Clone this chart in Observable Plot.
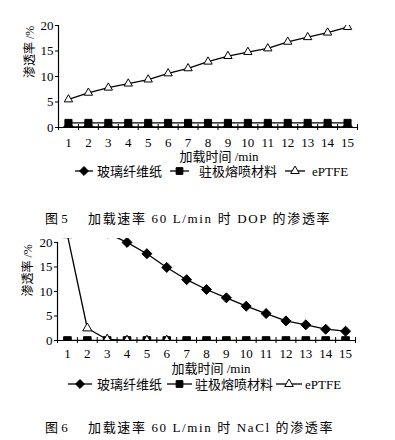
<!DOCTYPE html>
<html><head><meta charset="utf-8">
<script src="https://cdn.jsdelivr.net/npm/d3@7"></script>
<script src="https://cdn.jsdelivr.net/npm/@observablehq/plot@0.6"></script>
<style>
body{margin:0;background:#fff;}
#root{position:relative;width:395px;height:440px;overflow:hidden;font-family:"Liberation Serif","Times New Roman","DejaVu Serif","Noto Sans CJK SC",serif;color:#000;}
.abs{position:absolute;white-space:pre;line-height:1;}
.plot{position:absolute;left:0;}
</style></head><body><div id="root"></div>
<script>
// ---- data ----
const minutes = [1, 2, 3, 4, 5, 6, 7, 8, 9, 10, 11, 12, 13, 14, 15];
const yTicks = [0, 5, 10, 15, 20];
const seriesNames = ["玻璃纤维纸", "驻极熔喷材料", "ePTFE"];
const xTitle = "加载时间 /min";
const yTitle = "渗透率 /%";

// Figure 5: DOP
const dopGlass    = [0.1, 0.1, 0.1, 0.1, 0.1, 0.1, 0.1, 0.1, 0.1, 0.1, 0.1, 0.1, 0.1, 0.1, 0.1];
const dopElectret = [0.9, 0.9, 0.9, 0.9, 0.9, 0.9, 0.9, 0.9, 0.9, 0.9, 0.9, 0.9, 0.9, 0.9, 0.9];
const dopEPTFE    = [5.5, 6.8, 7.8, 8.6, 9.4, 10.6, 11.6, 12.9, 14.0, 14.8, 15.5, 16.8, 17.7, 18.6, 19.7];
const caption5a = "图 5";
const caption5b = "加载速率 60 L/min 时 DOP 的渗透率";

// Figure 6: NaCl
const naclGlass    = [26.0, 24.0, 21.9, 20.0, 17.7, 14.9, 12.4, 10.4, 8.7, 7.0, 5.5, 4.0, 3.2, 2.3, 1.9];
const naclElectret = [0, 0, 0, 0, 0, 0, 0, 0, 0, 0, 0, 0, 0, 0, 0];
const naclEPTFE    = [21.5, 2.5, 0.2, 0, 0, 0, null, null, null, null, null, null, null, null, null];
const caption6a = "图 6";
const caption6b = "加载速率 60 L/min 时 NaCl 的渗透率";

const root = document.getElementById("root");
const FONT = "'Liberation Serif','Times New Roman','DejaVu Serif','Noto Sans CJK SC',serif";

function rows(vals) { return minutes.map((m, i) => ({minute: m, value: vals[i]})); }
const halfTicks = minutes.map(m => m - 0.5).concat([minutes[minutes.length - 1] + 0.5]);

function chart(o) {
  const frameH = o.height - o.marginTop - o.marginBottom;
  const S = [
    {data: rows(o.glass), symbol: "diamond2", fill: "black", r: o.rD},
    {data: rows(o.electret), symbol: "square", fill: "black", r: o.rS},
    {data: rows(o.eptfe), symbol: "triangle", fill: "white", r: o.rT}
  ];
  const marks = [
    Plot.ruleY([0], {stroke: "black", strokeWidth: 1.2}),
    Plot.ruleX([0.5], {y1: 0, y2: yTicks[yTicks.length - 1], stroke: "black", strokeWidth: 1.2}),
    Plot.tickX(halfTicks, {x: d => d, insetTop: frameH - 3, insetBottom: -3, stroke: "black", strokeWidth: 1}),
    Plot.axisY({ticks: yTicks, tickSize: 3, tickPadding: 2, label: null, fontSize: 13, fontFamily: FONT}),
    Plot.axisX({ticks: minutes, tickSize: 0, tickPadding: o.xPad, label: null, fontSize: 13, fontFamily: FONT}),
    Plot.text([yTitle], {frameAnchor: "left", rotate: -90, dx: o.yLabDx, dy: o.yLabDy, fontSize: 12, fontFamily: FONT})
  ];
  for (const s of S) {
    marks.push(Plot.line(s.data, {x: "minute", y: "value", stroke: "black", strokeWidth: 1.3, clip: true}));
  }
  for (const s of S) {
    marks.push(Plot.dot(s.data, {x: "minute", y: "value", symbol: () => s.symbol, fill: s.fill, stroke: "black", strokeWidth: 1, r: s.r, clip: true}));
  }
  const p = Plot.plot({
    width: 395, height: o.height,
    marginTop: o.marginTop, marginBottom: o.marginBottom, marginLeft: o.marginLeft, marginRight: o.marginRight,
    style: {fontFamily: FONT, fontSize: "13px", color: "#000", background: "transparent", overflow: "visible"},
    x: {domain: [0.5, 15.5]},
    y: {domain: [0, o.yMax]},
    symbol: {type: "identity"},
    marks
  });
  p.classList.add("plot");
  p.style.top = o.top + "px";
  root.appendChild(p);
}

function text(str, left, cy, size, extra) {
  const d = document.createElement("div");
  d.className = "abs";
  d.textContent = str;
  d.style.fontSize = size + "px";
  d.style.left = left + "px";
  d.style.top = (cy - size / 2) + "px";
  if (extra) Object.assign(d.style, extra);
  root.appendChild(d);
  return d;
}
function centered(str, cx, cy, size) {
  const d = text(str, 0, cy, size);
  d.style.left = (cx - d.offsetWidth / 2) + "px";
}
function spanTo(str, left, right, cy, size) {
  const d = text(str, left, cy, size);
  const n = [...str].length;
  const ls = (right - left - d.offsetWidth) / (n - 1);
  d.style.letterSpacing = ls + "px";
}

const symbols = [d3.symbolDiamond2, d3.symbolSquare, d3.symbolTriangle];
const fills = ["black", "black", "white"];
const sizes = [4, 3.8, 3.2];
function legend(cy, swatches, textLefts) {
  seriesNames.forEach((name, i) => {
    const [x0, x1] = swatches[i];
    const w = x1 - x0;
    const svg = d3.create("svg").attr("width", w).attr("height", 14)
      .style("position", "absolute").style("left", x0 + "px").style("top", (cy - 7) + "px");
    svg.append("line").attr("x1", 0).attr("x2", w).attr("y1", 7).attr("y2", 7).attr("stroke", "black").attr("stroke-width", 1.3);
    svg.append("path").attr("d", d3.symbol(symbols[i], Math.PI * sizes[i] * sizes[i])())
      .attr("transform", `translate(${w / 2},7)`).attr("fill", fills[i]).attr("stroke", "black");
    root.appendChild(svg.node());
    text(name, textLefts[i], cy, 13);
  });
}

// Figure 5
chart({top: 0, height: 150, marginTop: 25, marginBottom: 23, marginLeft: 58, marginRight: 38, yMax: 20,
  glass: dopGlass, electret: dopElectret, eptfe: dopEPTFE, rD: 4.5, rS: 4, rT: 3.1, xPad: 10, yLabDx: -28, yLabDy: 1.5});
centered(xTitle, 219, 156, 13);
legend(171, [[75, 93], [170, 189], [285, 305]], [97, 199, 312]);
text(caption5a, 45, 218, 13);
spanTo(caption5b, 88, 330, 218, 13);

// Figure 6
chart({top: 230, height: 130, marginTop: 8, marginBottom: 20, marginLeft: 57, marginRight: 40, yMax: 20.8,
  glass: naclGlass, electret: naclElectret, eptfe: naclEPTFE, rD: 4.5, rS: 4.3, rT: 3.4, xPad: 8, yLabDx: -29, yLabDy: 7});
centered(xTitle, 211, 368, 13);
legend(384, [[68, 92], [167, 192], [276, 302]], [97, 195, 305]);
text(caption6a, 45, 427, 13);
spanTo(caption6b, 88, 332, 427, 13);
</script>
</body></html>
